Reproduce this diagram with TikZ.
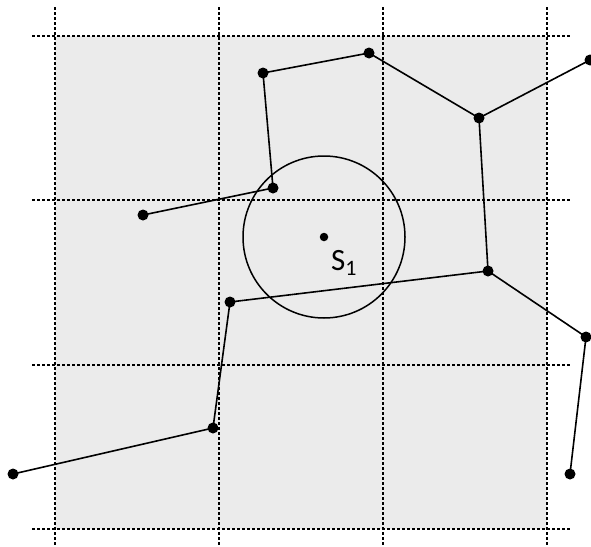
\documentclass[tikz,border=0pt]{standalone}
\usepackage{fontspec}
\setmainfont{Carlito}
\begin{document}
\begin{tikzpicture}[x=1pt,y=-1pt,
  gridline/.style={line width=1.3pt,dash pattern=on 2.6pt off 2.4pt},
  edge/.style={line width=1.6pt},
  pt/.style={circle,fill=black,inner sep=0pt,minimum size=11pt},
  spt/.style={circle,fill=black,inner sep=0pt,minimum size=8.5pt}]
\useasboundingbox (0,0) rectangle (591,546);
\fill[black!8] (55,36) rectangle (547,529);
\foreach \x in {55,219,383,547} \draw[gridline] (\x,7) -- (\x,546);
\foreach \y in {36,200,365,529} \draw[gridline] (32,\y) -- (570,\y);
\node[spt] (s1) at (324,237) {};
\draw[line width=1.5pt] (s1) circle (81);
\node[anchor=base west,font=\fontsize{31}{31}\selectfont,inner sep=0pt] (lab) at (331,270) {S\raisebox{-5pt}{\fontsize{22}{22}\selectfont 1}};
\node[pt] (A) at (143,215) {};
\node[pt] (B) at (273,188) {};
\node[pt] (C) at (263,73) {};
\node[pt] (D) at (369,53) {};
\node[pt] (E) at (479,118) {};
\node[pt] (F) at (590,60) {};
\node[pt] (G) at (488,271) {};
\node[pt] (H) at (586,337) {};
\node[pt] (I) at (570,474) {};
\node[pt] (J) at (230,302) {};
\node[pt] (K) at (213,428) {};
\node[pt] (L) at (13,474) {};
\draw[edge] (A.center) -- (B.center) -- (C.center) -- (D.center) -- (E.center) -- (F.center);
\draw[edge] (E.center) -- (G.center) -- (J.center) -- (K.center) -- (L.center);
\draw[edge] (G.center) -- (H.center) -- (I.center);
\end{tikzpicture}
\end{document}
